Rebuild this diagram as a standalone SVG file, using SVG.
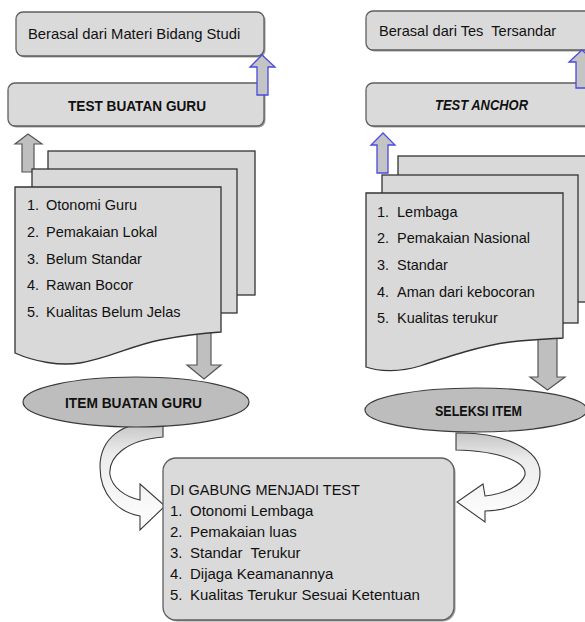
<svg xmlns="http://www.w3.org/2000/svg" width="585" height="622" viewBox="0 0 585 622">
<style>
.t{font-family:"Liberation Sans",Arial,sans-serif;fill:#111}
.l{font-size:14.5px}
.b{font-size:15px;font-weight:bold}
.box{fill:#dadada;stroke:#5f5f5f;stroke-width:1.3}
.sh{fill:#9a9a9a}
.pg{fill:#d9d9d9;stroke:#333;stroke-width:1.3}
.el{fill:#bdbdbd;stroke:#3a3a3a;stroke-width:1.2}
.ga{fill:#bfbfbf;stroke:#555;stroke-width:1.2}
.ba{fill:#c4c4c4;stroke:#4a4ae0;stroke-width:1.3}
.ca{fill:url(#cg);stroke:#3a3a3a;stroke-width:1.1}
</style>
<defs>
<linearGradient id="cg" x1="0" y1="0" x2="0" y2="1">
<stop offset="0" stop-color="#c4c4c4"/>
<stop offset="0.3" stop-color="#ececec"/>
<stop offset="1" stop-color="#ffffff"/>
</linearGradient>
</defs>
<rect width="585" height="622" fill="#ffffff"/>

<g id="connectors">
<polygon class="ga" points="22,172 22,144 15,144 28,134 42,144 34,144 34,172"/>
<polygon class="ba" points="377,173 377,145 371,145 383,133 395,145 388,145 388,173"/>
<polygon class="ga" points="197,318 211,318 211,365 221,365 204,379 187,365 197,365"/>
<polygon class="ga" points="538,330 557,330 557,377 565,377 547.5,390 530,377 538,377"/>
<path class="ca" d="M163,422 C120,420 100,440 100,467 C100,495 118,512 140,516 L140,530 L165,506 L140,484 L140,500 C125,497 112,487 110,475 C108,458 125,440 163,437 Z"/>
<path class="ca" d="M456,433 C505,432 540,450 540,473 C540,497 515,510 485,511 L485,522 L457,502 L483,484 L485,496 C505,494 522,485 525,475 C527,462 500,451 456,450 Z"/>
</g>

<g id="materi">
<rect class="sh" x="17.5" y="13.5" width="248" height="44" rx="7"/>
<rect class="box" x="16" y="12" width="248" height="44" rx="7"/>
<text class="t" x="28" y="39" style="font-size:14.8px">Berasal dari Materi Bidang Studi</text>
</g>
<g id="test-buatan-guru">
<rect class="sh" x="9.5" y="84.5" width="256" height="43" rx="7"/>
<rect class="box" x="8" y="83" width="256" height="43" rx="7"/>
<text class="t b" x="68" y="111" textLength="138" lengthAdjust="spacingAndGlyphs">TEST BUATAN GURU</text>
</g>
<g id="tersandar">
<rect class="sh" x="367.5" y="12.5" width="240" height="39" rx="7"/>
<rect class="box" x="366" y="11" width="240" height="39" rx="7"/>
<text class="t" x="379" y="36" style="font-size:14.6px" xml:space="preserve">Berasal dari Tes  Tersandar</text>
</g>
<g id="test-anchor">
<rect class="sh" x="367.5" y="84.5" width="240" height="43" rx="7"/>
<rect class="box" x="366" y="83" width="240" height="43" rx="7"/>
<text class="t b" x="435" y="110" font-style="italic" textLength="93" lengthAdjust="spacingAndGlyphs">TEST ANCHOR</text>
</g>
<g id="arrows-up">
<polygon class="ba" points="257,95 257,67 250,67 262,55 275,67 268,67 268,95"/>
<polygon class="ba" points="576,88 576,62 569,62 582,50 595,62 588,62 588,88"/>
</g>

<g id="guru-pages">
<rect class="pg" x="48" y="151" width="207" height="144"/>
<rect class="pg" x="32" y="169" width="205" height="144"/>
<path class="pg" d="M15,187 H221 V332 C205,333 185,335 160,340 C130,346 110,358 80,363 C60,366 35,362 15,353 Z"/>
<text class="t l" x="27" y="210">1.</text><text class="t l" x="46" y="210">Otonomi Guru</text>
<text class="t l" x="27" y="237">2.</text><text class="t l" x="46" y="237">Pemakaian Lokal</text>
<text class="t l" x="27" y="264">3.</text><text class="t l" x="46" y="264">Belum Standar</text>
<text class="t l" x="27" y="290">4.</text><text class="t l" x="46" y="290">Rawan Bocor</text>
<text class="t l" x="27" y="317">5.</text><text class="t l" x="46" y="317">Kualitas Belum Jelas</text>
</g>

<g id="anchor-pages">
<rect class="pg" x="398" y="156" width="200" height="146"/>
<rect class="pg" x="382" y="175" width="196" height="148"/>
<path class="pg" d="M366,193 H563 V338 C550,339 535,339 510,342 C480,346 450,356 420,366 C400,372 380,372 366,367 Z"/>
<text class="t l" x="377" y="217">1.</text><text class="t l" x="397" y="217">Lembaga</text>
<text class="t l" x="377" y="243">2.</text><text class="t l" x="397" y="243">Pemakaian Nasional</text>
<text class="t l" x="377" y="270">3.</text><text class="t l" x="397" y="270">Standar</text>
<text class="t l" x="377" y="297">4.</text><text class="t l" x="397" y="297">Aman dari kebocoran</text>
<text class="t l" x="377" y="323">5.</text><text class="t l" x="397" y="323">Kualitas terukur</text>
</g>

<g id="item-buatan-guru">
<ellipse class="el" cx="136" cy="402" rx="113" ry="25"/>
<text class="t b" x="65" y="408" textLength="137" lengthAdjust="spacingAndGlyphs">ITEM BUATAN GURU</text>
</g>
<g id="seleksi-item">
<ellipse class="el" cx="476" cy="410" rx="111" ry="22"/>
<text class="t b" x="435" y="416" textLength="87" lengthAdjust="spacingAndGlyphs">SELEKSI ITEM</text>
</g>

<g id="gabung">
<rect class="sh" x="164.5" y="459.5" width="291" height="162" rx="13"/>
<rect class="box" x="163" y="458" width="291" height="162" rx="13"/>
<text class="t" x="170" y="495" style="font-size:14.5px">DI GABUNG MENJADI TEST</text>
<text class="t" x="170" y="516" style="font-size:15px">1.</text><text class="t" x="190" y="516" style="font-size:15px">Otonomi Lembaga</text>
<text class="t" x="170" y="537" style="font-size:15px">2.</text><text class="t" x="190" y="537" style="font-size:15px">Pemakaian luas</text>
<text class="t" x="170" y="558" style="font-size:15px">3.</text><text class="t" x="190" y="558" style="font-size:15px" xml:space="preserve">Standar  Terukur</text>
<text class="t" x="170" y="579" style="font-size:15px">4.</text><text class="t" x="190" y="579" style="font-size:15px">Dijaga Keamanannya</text>
<text class="t" x="170" y="600" style="font-size:15px">5.</text><text class="t" x="190" y="600" style="font-size:15px">Kualitas Terukur Sesuai Ketentuan</text>
</g>
</svg>
